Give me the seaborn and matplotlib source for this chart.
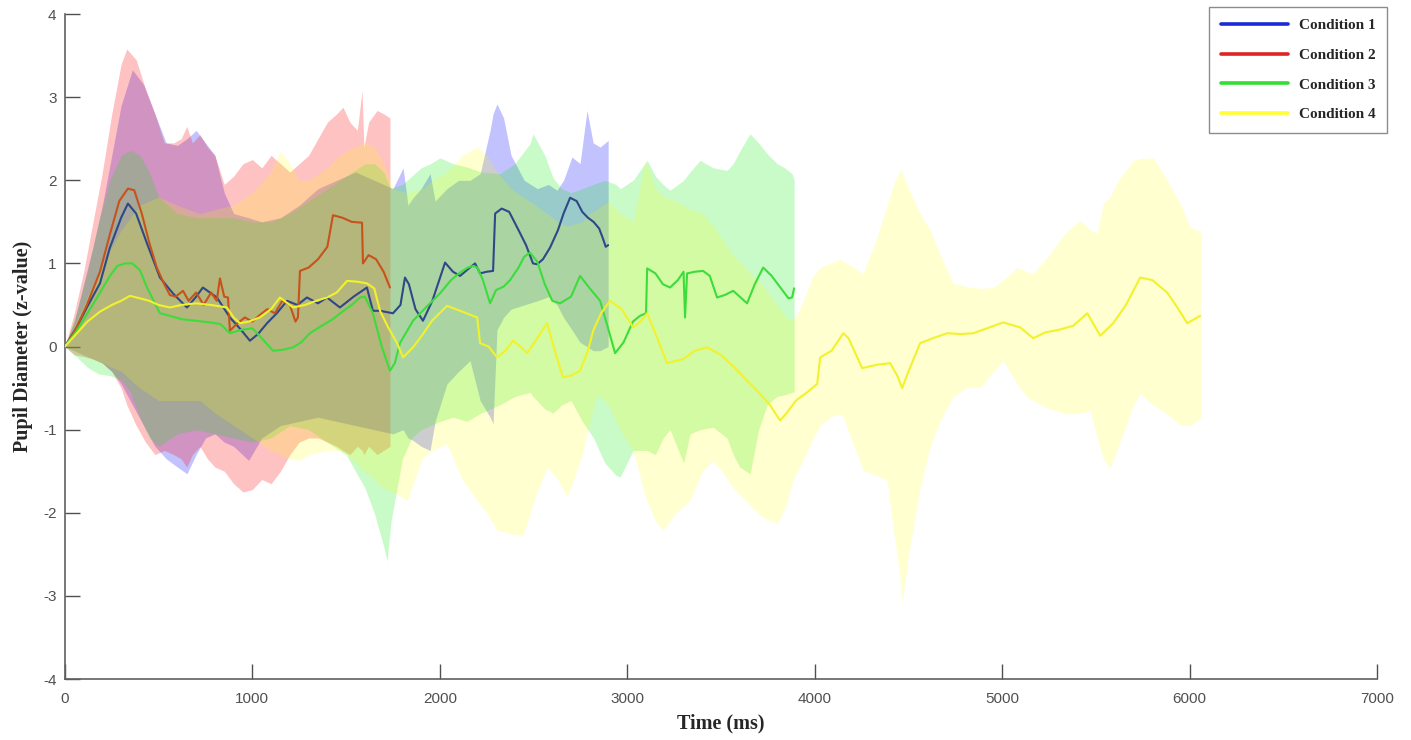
import numpy as np
import pandas as pd
import matplotlib
matplotlib.use("Agg")
import matplotlib.pyplot as plt
from matplotlib.lines import Line2D
import seaborn as sns

#%% Data
# Condition 1 - mean line
c1_t = [0, 60, 117, 187, 240, 300, 336, 380, 438, 507, 576, 651, 700, 736, 811, 880, 940, 987,
        1030, 1078, 1130, 1185, 1240, 1291, 1350, 1398, 1467, 1540, 1611, 1643, 1681, 1750, 1790,
        1814, 1835, 1870, 1910, 1960, 2028, 2070, 2108, 2150, 2188, 2215, 2250, 2284, 2295, 2330,
        2370, 2420, 2460, 2497, 2519, 2550, 2588, 2630, 2660, 2695, 2730, 2760, 2790, 2820, 2850,
        2870, 2885, 2898]
c1_mean = [0, 0.22, 0.47, 0.76, 1.19, 1.55, 1.72, 1.6, 1.24, 0.83, 0.64, 0.47, 0.6, 0.71, 0.59,
           0.35, 0.2, 0.07, 0.15, 0.28, 0.4, 0.55, 0.5, 0.59, 0.52, 0.59, 0.47, 0.6, 0.71, 0.43,
           0.43, 0.40, 0.5, 0.83, 0.75, 0.45, 0.31, 0.55, 1.01, 0.9, 0.85, 0.93, 1.0, 0.88, 0.9,
           0.91, 1.6, 1.66, 1.62, 1.4, 1.22, 1.0, 0.99, 1.05, 1.19, 1.4, 1.6, 1.79, 1.75, 1.62,
           1.55, 1.5, 1.42, 1.3, 1.2, 1.22]
# Condition 1 - shaded band
c1_bt = [0, 50, 100, 150, 200, 250, 300, 360, 420, 480, 540, 600, 651, 700, 750, 800, 850, 900,
         980, 1050, 1150, 1250, 1350, 1450, 1550, 1650, 1750, 1804, 1830, 1857, 1900, 1948, 1975,
         2038, 2100, 2161, 2215, 2268, 2284, 2305, 2340, 2380, 2450, 2520, 2580, 2625, 2660, 2705,
         2748, 2785, 2818, 2855, 2898]
c1_hi = [0, 0.3, 0.75, 1.2, 1.7, 2.3, 2.9, 3.33, 3.15, 2.8, 2.45, 2.42, 2.5, 2.6, 2.45, 2.3, 1.85,
         1.6, 1.55, 1.5, 1.55, 1.7, 1.9, 2.0, 2.1, 2.0, 1.9, 2.15, 1.7, 1.79, 1.9, 2.08, 1.75, 1.9,
         2.0, 2.0, 2.08, 2.6, 2.8, 2.92, 2.75, 2.3, 2.0, 1.9, 1.95, 1.88, 2.0, 2.28, 2.2, 2.84,
         2.45, 2.4, 2.48]
c1_lo = [0, -0.05, -0.1, -0.15, -0.2, -0.3, -0.45, -0.7, -0.95, -1.2, -1.35, -1.45, -1.53, -1.3,
         -1.1, -1.05, -1.15, -1.2, -1.37, -1.1, -0.95, -0.9, -0.85, -0.9, -0.95, -1.0, -1.05,
         -1.0, -1.1, -1.13, -1.2, -1.25, -0.9, -0.45, -0.3, -0.17, -0.65, -0.85, -0.93, 0.2, 0.35,
         0.45, 0.5, 0.55, 0.6, 0.5, 0.35, 0.2, 0.05, 0.0, -0.05, -0.05, 0.0]

# Condition 2
c2_t = [0, 60, 117, 187, 240, 290, 336, 370, 410, 450, 490, 530, 560, 590, 630, 660, 700, 740,
        780, 810, 827, 850, 870, 880, 920, 960, 1000, 1040, 1080, 1120, 1160, 1200, 1230, 1243,
        1254, 1300, 1350, 1400, 1430, 1480, 1530, 1585, 1590, 1620, 1660, 1700, 1734]
c2_mean = [0, 0.22, 0.5, 0.9, 1.35, 1.75, 1.9, 1.88, 1.6, 1.25, 0.95, 0.75, 0.62, 0.6, 0.67,
           0.55, 0.65, 0.5, 0.65, 0.55, 0.82, 0.6, 0.59, 0.19, 0.28, 0.35, 0.3, 0.38, 0.45, 0.4,
           0.55, 0.5, 0.3, 0.35, 0.91, 0.95, 1.05, 1.2, 1.58, 1.55, 1.5, 1.49, 1.0, 1.1, 1.05,
           0.9, 0.71]
c2_bt = [0, 50, 100, 150, 200, 250, 300, 330, 380, 430, 480, 530, 580, 620, 650, 680, 720, 760,
         800, 850, 900, 950, 1000, 1050, 1100, 1150, 1200, 1250, 1300, 1350, 1400, 1450, 1483,
         1520, 1560, 1585, 1595, 1620, 1665, 1700, 1734]
c2_hi = [0, 0.4, 0.9, 1.5, 2.1, 2.8, 3.4, 3.58, 3.45, 3.1, 2.8, 2.45, 2.45, 2.5, 2.65, 2.45,
         2.55, 2.4, 2.3, 1.95, 2.05, 2.2, 2.25, 2.15, 2.3, 2.2, 2.1, 2.2, 2.3, 2.5, 2.7, 2.8,
         2.88, 2.7, 2.6, 3.08, 2.4, 2.7, 2.84, 2.8, 2.75]
c2_lo = [0, -0.1, -0.12, -0.15, -0.2, -0.3, -0.5, -0.7, -0.95, -1.15, -1.3, -1.25, -1.3, -1.35,
         -1.45, -1.3, -1.2, -1.35, -1.45, -1.5, -1.65, -1.75, -1.72, -1.6, -1.65, -1.5, -1.3,
         -1.15, -1.1, -1.1, -1.15, -1.2, -1.25, -1.3, -1.2, -1.25, -1.3, -1.2, -1.3, -1.25, -1.2]

# Condition 3
c3_t = [0, 60, 120, 180, 240, 280, 320, 360, 400, 440, 507, 560, 620, 700, 774, 830, 880, 940,
        1000, 1050, 1110, 1160, 1217, 1260, 1307, 1370, 1430, 1480, 1530, 1574, 1600, 1643, 1690,
        1734, 1760, 1787, 1857, 1930, 2001, 2060, 2108, 2150, 2177, 2200, 2230, 2268, 2300, 2340,
        2375, 2420, 2450, 2481, 2520, 2560, 2600, 2641, 2700, 2748, 2800, 2855, 2900, 2935, 2980,
        3030, 3068, 3100, 3106, 3150, 3190, 3228, 3270, 3300, 3308, 3319, 3360, 3404, 3440, 3479,
        3520, 3565, 3600, 3639, 3680, 3725, 3770, 3820, 3860, 3879, 3890]
c3_mean = [0, 0.18, 0.4, 0.62, 0.85, 0.97, 1.0, 1.0, 0.92, 0.7, 0.4, 0.37, 0.33, 0.31, 0.29,
           0.27, 0.16, 0.2, 0.22, 0.1, -0.05, -0.04, -0.01, 0.05, 0.16, 0.25, 0.33, 0.42, 0.5,
           0.59, 0.6, 0.4, 0.0, -0.29, -0.2, 0.04, 0.31, 0.48, 0.64, 0.8, 0.89, 0.95, 0.97, 0.95,
           0.8, 0.52, 0.68, 0.72, 0.8, 0.95, 1.08, 1.13, 1.02, 0.75, 0.55, 0.52, 0.6, 0.85, 0.7,
           0.55, 0.2, -0.08, 0.05, 0.3, 0.37, 0.4, 0.94, 0.88, 0.75, 0.71, 0.8, 0.9, 0.35, 0.88,
           0.9, 0.91, 0.85, 0.59, 0.62, 0.67, 0.6, 0.52, 0.75, 0.95, 0.85, 0.7, 0.58, 0.59, 0.7]
c3_bt = [0, 60, 120, 180, 240, 300, 350, 400, 450, 500, 600, 700, 800, 900, 1000, 1100, 1200,
         1300, 1400, 1500, 1600, 1650, 1700, 1718, 1740, 1800, 1850, 1900, 1950, 2001, 2070, 2145,
         2220, 2321, 2400, 2481, 2497, 2560, 2604, 2650, 2700, 2760, 2820, 2880, 2940, 2962, 3031,
         3106, 3150, 3191, 3228, 3300, 3335, 3388, 3458, 3532, 3565, 3600, 3655, 3700, 3746, 3799,
         3840, 3879, 3890]
c3_hi = [0, 0.4, 0.9, 1.5, 2.0, 2.3, 2.36, 2.3, 2.1, 1.8, 1.6, 1.55, 1.55, 1.55, 1.5, 1.5, 1.6,
         1.75, 1.9, 2.05, 2.2, 2.2, 2.1, 2.0, 1.9, 1.95, 2.05, 2.15, 2.2, 2.27, 2.2, 2.16, 2.1,
         2.08, 2.2, 2.44, 2.56, 2.3, 2.03, 1.9, 1.85, 1.9, 1.95, 2.0, 1.95, 1.9, 2.0, 2.24, 2.05,
         1.95, 1.88, 2.0, 2.1, 2.24, 2.15, 2.12, 2.2, 2.35, 2.56, 2.45, 2.32, 2.2, 2.15, 2.08, 2.0]
c3_lo = [0, -0.12, -0.25, -0.33, -0.35, -0.4, -0.55, -0.85, -1.1, -1.2, -1.05, -1.0, -1.05,
         -1.1, -1.15, -1.1, -0.95, -1.0, -1.15, -1.3, -1.7, -2.0, -2.4, -2.58, -2.1, -1.35, -1.1,
         -1.0, -0.95, -0.9, -0.85, -0.9, -0.8, -0.7, -0.6, -0.55, -0.6, -0.75, -0.8, -0.7, -0.65,
         -0.9, -1.1, -1.4, -1.55, -1.57, -1.25, -1.25, -1.3, -1.1, -1.0, -1.4, -1.05, -1.0, -0.97,
         -1.1, -1.3, -1.45, -1.53, -1.0, -0.7, -0.6, -0.58, -0.55, -0.55]

# Condition 4
c4_t = [0, 60, 120, 187, 250, 300, 347, 400, 450, 500, 560, 620, 700, 780, 864, 900, 934, 980,
        1040, 1100, 1147, 1217, 1280, 1340, 1398, 1450, 1505, 1560, 1611, 1650, 1681, 1720, 1772,
        1804, 1857, 1910, 1958, 2038, 2120, 2199, 2215, 2260, 2305, 2350, 2391, 2430, 2465, 2520,
        2572, 2620, 2657, 2700, 2748, 2790, 2818, 2860, 2908, 2970, 3031, 3070, 3106, 3160, 3212,
        3300, 3360, 3426, 3500, 3570, 3639, 3700, 3760, 3815, 3850, 3900, 3960, 4013, 4029, 4090,
        4152, 4180, 4253, 4330, 4402, 4440, 4466, 4500, 4562, 4630, 4706, 4780, 4845, 4920, 5005,
        5096, 5165, 5230, 5300, 5379, 5454, 5523, 5592, 5660, 5736, 5800, 5880, 5940, 5987, 6056]
c4_mean = [0, 0.15, 0.3, 0.42, 0.5, 0.55, 0.61, 0.58, 0.55, 0.5, 0.47, 0.5, 0.52, 0.5, 0.47,
           0.35, 0.28, 0.3, 0.35, 0.45, 0.59, 0.47, 0.5, 0.55, 0.59, 0.65, 0.79, 0.78, 0.76, 0.7,
           0.43, 0.25, 0.04, -0.13, -0.01, 0.15, 0.31, 0.49, 0.42, 0.35, 0.04, 0.0, -0.13, -0.05,
           0.07, 0.0, -0.08, 0.1, 0.28, -0.1, -0.37, -0.35, -0.29, -0.05, 0.19, 0.4, 0.55, 0.45,
           0.23, 0.3, 0.4, 0.1, -0.2, -0.15, -0.05, -0.01, -0.1, -0.25, -0.41, -0.55, -0.7, -0.89,
           -0.8, -0.65, -0.55, -0.45, -0.13, -0.05, 0.16, 0.1, -0.26, -0.22, -0.2, -0.35, -0.5,
           -0.3, 0.04, 0.1, 0.16, 0.15, 0.16, 0.22, 0.29, 0.23, 0.1, 0.17, 0.2, 0.25, 0.4, 0.13,
           0.28, 0.5, 0.83, 0.8, 0.65, 0.45, 0.28, 0.37]
c4_bt = [0, 100, 200, 300, 400, 500, 600, 720, 800, 900, 1000, 1100, 1150, 1200, 1250, 1300,
         1400, 1467, 1500, 1550, 1600, 1650, 1700, 1750, 1825, 1910, 1960, 2038, 2120, 2199, 2250,
         2305, 2380, 2444, 2510, 2572, 2630, 2679, 2760, 2800, 2839, 2900, 2962, 3031, 3095, 3150,
         3191, 3260, 3335, 3400, 3458, 3520, 3565, 3650, 3720, 3799, 3850, 3885, 3930, 3991, 4029,
         4080, 4135, 4152, 4258, 4330, 4386, 4420, 4456, 4466, 4500, 4562, 4616, 4669, 4738, 4813,
         4883, 4952, 5005, 5080, 5133, 5165, 5250, 5330, 5379, 5416, 5470, 5507, 5539, 5576, 5620,
         5699, 5736, 5806, 5880, 5950, 6003, 6040, 6060]
c4_hi = [0, 0.5, 1.0, 1.4, 1.7, 1.8, 1.7, 1.6, 1.65, 1.7, 1.85, 2.1, 2.35, 2.2, 2.0, 2.0, 2.15,
         2.3, 2.35, 2.4, 2.45, 2.4, 2.2, 1.9, 1.85, 1.9, 2.0, 2.1, 2.3, 2.4, 2.3, 2.1, 1.9, 1.8,
         1.7, 1.6, 1.5, 1.45, 1.5, 1.6, 1.65, 1.75, 1.6, 1.5, 2.24, 1.9, 1.8, 1.75, 1.65, 1.6,
         1.45, 1.25, 1.1, 0.9, 0.75, 0.5, 0.35, 0.31, 0.5, 0.85, 0.95, 1.0, 1.05, 1.03, 0.88, 1.3,
         1.7, 1.95, 2.12, 2.1, 1.9, 1.6, 1.4, 1.1, 0.76, 0.72, 0.7, 0.71, 0.8, 0.95, 0.9, 0.88,
         1.1, 1.35, 1.45, 1.52, 1.4, 1.36, 1.72, 1.8, 2.0, 2.24, 2.26, 2.27, 2.0, 1.72, 1.43, 1.4,
         1.4]
c4_lo = [0, -0.1, -0.2, -0.3, -0.5, -0.65, -0.65, -0.65, -0.8, -0.95, -1.1, -1.25, -1.3, -1.35,
         -1.37, -1.3, -1.25, -1.25, -1.3, -1.4, -1.5, -1.6, -1.7, -1.75, -1.85, -1.33, -1.25,
         -1.17, -1.6, -1.85, -2.0, -2.21, -2.25, -2.27, -1.8, -1.45, -1.6, -1.81, -1.3, -0.9,
         -0.57, -0.7, -1.0, -1.25, -1.8, -2.1, -2.21, -2.0, -1.85, -1.5, -1.37, -1.55, -1.7, -1.9,
         -2.05, -2.13, -1.9, -1.6, -1.4, -1.1, -0.95, -0.85, -0.81, -0.85, -1.49, -1.55, -1.61,
         -2.2, -2.8, -3.09, -2.5, -1.7, -1.2, -0.89, -0.6, -0.49, -0.49, -0.3, -0.17, -0.45, -0.61,
         -0.65, -0.75, -0.8, -0.81, -0.8, -0.77, -1.1, -1.35, -1.46, -1.2, -0.7, -0.57, -0.7,
         -0.81, -0.95, -0.95, -0.89, -0.85]

labels = ["Condition 1", "Condition 2", "Condition 3", "Condition 4"]

#%% Style
sns.set_style("white")
plt.rcParams["xtick.direction"] = "in"
plt.rcParams["ytick.direction"] = "in"
plt.rcParams["axes.unicode_minus"] = False

fig = plt.figure(figsize=(14.11, 7.40), dpi=100)
ax = fig.add_axes([0.046, 0.0824, 0.930, 0.8986])

conds = [
    (c1_t, c1_mean, c1_bt, c1_hi, c1_lo, "#0000ff", 0.24, "#2e4888"),
    (c2_t, c2_mean, c2_bt, c2_hi, c2_lo, "#ff0000", 0.24, "#c8521c"),
    (c3_t, c3_mean, c3_bt, c3_hi, c3_lo, "#00ee00", 0.21, "#3ddc3d"),
    (c4_t, c4_mean, c4_bt, c4_hi, c4_lo, "#ffff00", 0.19, "#f2f22c"),
]

# shaded bands first (in condition order), mean lines on top
for i, (t, m, bt, hi, lo, fc, a, lc) in enumerate(conds):
    ax.fill_between(bt, lo, hi, color=fc, alpha=a, lw=0, zorder=1 + i)
for i, (t, m, bt, hi, lo, fc, a, lc) in enumerate(conds):
    df = pd.DataFrame({"t": t, "m": m})
    sns.lineplot(data=df, x="t", y="m", ax=ax, color=lc, lw=1.5, zorder=10 + i)

ax.set_xlim(0, 7000)
ax.set_ylim(-4, 4)
ax.set_xticks(np.arange(0, 7001, 1000))
ax.set_yticks(np.arange(-4, 5, 1))
sns.despine(ax=ax)
for s in ["left", "bottom"]:
    ax.spines[s].set_color("#606060")
    ax.spines[s].set_linewidth(1.2)
ax.tick_params(axis="both", bottom=True, left=True, direction="in", length=11, width=1.0,
               color="#505050", labelsize=11, labelcolor="#505050")
for lab in ax.get_xticklabels() + ax.get_yticklabels():
    lab.set_family(["Liberation Sans", "DejaVu Sans"])
ax.tick_params(axis="x", pad=9)
ax.tick_params(axis="y", pad=6)

ax.set_xlabel("Time (ms)", fontsize=14.5, fontweight="bold",
              family=["Liberation Serif", "DejaVu Serif"], labelpad=6)
ax.set_ylabel("Pupil Diameter (z-value)", fontsize=14.5, fontweight="bold",
              family=["Liberation Serif", "DejaVu Serif"], labelpad=7)

handles = [Line2D([0], [0], color=c, lw=2.6) for c in ["#1a2bd6", "#e02424", "#33dd33", "#ffff33"]]
leg = fig.legend(handles, labels, loc="upper right", bbox_to_anchor=(1387 / 1411, 1 - 7 / 740),
                 frameon=True, fancybox=False, handlelength=4.4, handletextpad=0.7,
                 labelspacing=1.05, borderpad=0.75, borderaxespad=0,
                 prop={"family": ["Liberation Serif", "DejaVu Serif"], "weight": "bold", "size": 11})
leg.get_frame().set_edgecolor("#707070")
leg.get_frame().set_linewidth(1.0)

fig.savefig("out.png", dpi=100)
